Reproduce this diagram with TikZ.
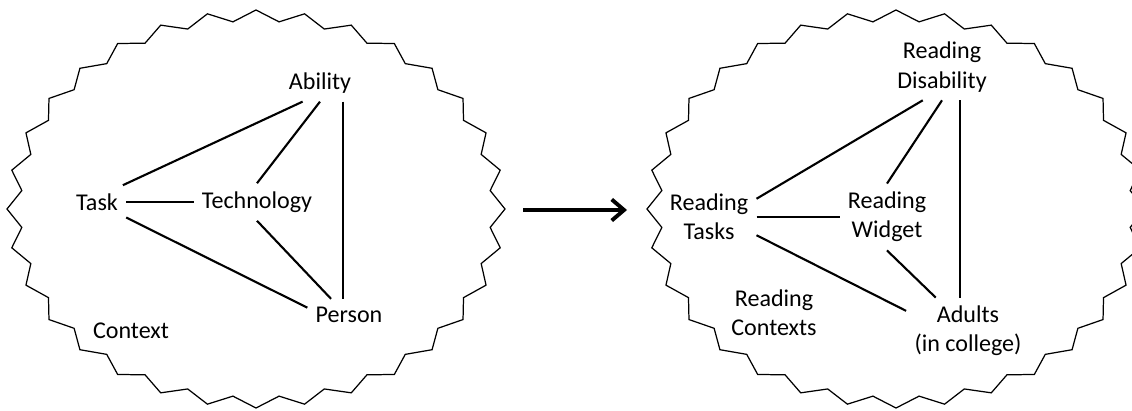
\documentclass[tikz,border=0pt]{standalone}
\usepackage{fontspec}
\setmainfont{Carlito}
\usetikzlibrary{arrows.meta}
\tikzset {
  concept/.style = {
    font = \fontsize{13.7pt}{16.7pt}\selectfont,
    align = center,
    inner sep = 0.16cm
  },
  % straight connector between two concepts
  link/.style = {
    draw = black,
    line width = 1.2pt
  },
  % zig-zag border round each model
  seal/.style = {
    draw = black,
    line width = 0.7pt
  },
  flow/.style = {
    draw = black,
    line width = 2.2pt,
    -{Straight Barb[length = 7pt, width = 12pt]}
  }
}
\begin{document}
\begin{tikzpicture}[x = 0.02cm, y = -0.02cm]
    \clip (0, 0) rectangle (1132, 411);

    \foreach \cx in {256, 896} {
      \draw [seal] (\cx + 249, 209)
        \foreach \k in {1,...,63} {
          -- ({\cx + (1 - 0.055*mod(\k, 2))*249*cos(\k*5.625)},
              {209 + (1 - 0.055*mod(\k, 2))*199*sin(\k*5.625)})
        } -- cycle;
    }

    \node[concept] (ability) at (320, 83) {Ability};
    \node[concept] (task) at (97, 202) {Task};
    \node[concept] (tech) at (257, 202) {Technology};
    \node[concept] (person) at (349, 315) {Person};
    \node[concept] (context) at (131, 331) {Context};

    \node[concept] (r-disability) at (942, 67) {Reading\\Disability};
    \node[concept] (r-tasks) at (709, 217) {Reading\\Tasks};
    \node[concept] (r-widget) at (887, 217) {Reading\\Widget};
    \node[concept] (r-contexts) at (774, 313) {Reading\\Contexts};
    \node[concept] (adults) at (968, 331) {Adults\\(in college)};

    \coordinate (arr-from) at (523, 210);
    \coordinate (arr-to) at (627, 210);

    \draw [link] (task.33) -- (ability.-133);
    \draw [link] (ability.south) -- (tech.north);
    \draw [link] (ability.-39) -- (ability.-39 |- person.north);
    \draw [link] (task.east) -- (tech.west);
    \draw [link] (task.-28) -- (person.170);
    \draw [link] (tech.south) -- (person.138);

    \draw [flow] (arr-from) -- (arr-to);

    \draw [link] (r-tasks.21) -- (r-disability.-120);
    \draw [link] (r-disability.south) -- (r-widget.north);
    \draw [link] (r-disability.-62) -- (r-disability.-62 |- adults.north);
    \draw [link] (r-tasks.east) -- (r-widget.west);
    \draw [link] (r-tasks.-21) -- (adults.162);
    \draw [link] (r-widget.south) -- (adults.134);
  \end{tikzpicture}
\end{document}
